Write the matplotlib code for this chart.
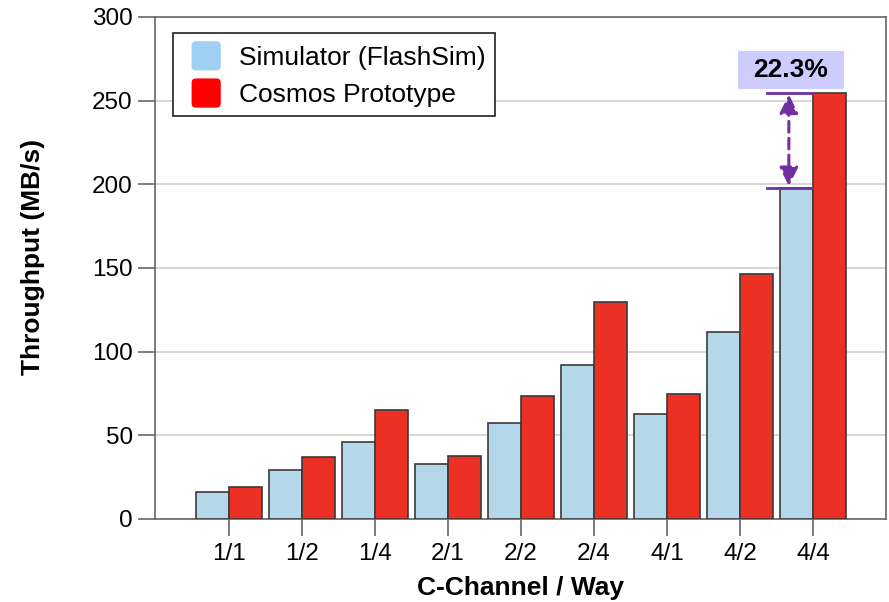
import matplotlib
matplotlib.use("Agg")
import matplotlib.pyplot as plt
import numpy as np
from matplotlib.patches import FancyBboxPatch, Rectangle
from matplotlib.legend_handler import HandlerPatch

plt.rcParams['font.family'] = ['Liberation Sans', 'DejaVu Sans']

categories = ["1/1", "1/2", "1/4", "2/1", "2/2", "2/4", "4/1", "4/2", "4/4"]
simulator = [16.3, 29.1, 46.2, 32.9, 57.4, 92.0, 62.6, 111.6, 198.0]
cosmos = [18.9, 36.9, 65.2, 37.7, 73.5, 129.6, 74.9, 146.6, 254.6]
series_names = ["Simulator (FlashSim)", "Cosmos Prototype"]
yticks = [0, 50, 100, 150, 200, 250, 300]
annot_text = "22.3%"

bar_blue = "#b4d7ea"
bar_red = "#ec3124"
leg_blue = "#a0cff4"
leg_red = "#ff0000"
spine_col = "#666666"
purple = "#7030a0"

fig = plt.figure(figsize=(8.89, 6.02), dpi=100)
ax = fig.add_axes([0.1744, 0.1379, 0.8222, 0.8339])

x = np.arange(len(categories))
w = 0.45
ax.bar(x - w / 2, simulator, width=w, color=bar_blue, edgecolor="#3a3a3a",
       linewidth=1.2, zorder=3)
ax.bar(x + w / 2, cosmos, width=w, color=bar_red, edgecolor="#3a3a3a",
       linewidth=1.2, zorder=3)

ax.set_xlim(-1.01, 9.0)
ax.set_ylim(0, 300)
ax.set_yticks(yticks)
ax.set_xticks(x)
ax.set_xticklabels(categories)
ax.yaxis.grid(True, color="#d0d0d0", linewidth=1.2, zorder=0)
ax.set_axisbelow(True)
for s in ax.spines.values():
    s.set_color(spine_col)
    s.set_linewidth(1.2)
ax.tick_params(axis="both", direction="out", length=12, width=1.2,
               color=spine_col, labelsize=17.5)
ax.tick_params(axis="y", pad=4)
ax.tick_params(axis="x", pad=5)

ax.set_ylabel("Throughput (MB/s)", fontsize=19, fontweight="bold")
ax.yaxis.set_label_coords(-0.150, 0.522)
ax.set_xlabel("C-Channel / Way", fontsize=19, fontweight="bold", labelpad=8)

# annotation
i = len(categories) - 1
top = cosmos[i]
bot = simulator[i]
xl0, xl1 = i - 0.63, i - 0.01
ax.plot([xl0, xl1], [top, top], color=purple, linewidth=2, zorder=4)
ax.plot([xl0, xl1], [bot, bot], color=purple, linewidth=2, zorder=4)
xa = i - 0.33
ax.annotate("", xy=(xa, top - 1), xytext=(xa, bot + 1),
            arrowprops=dict(arrowstyle="<|-|>", color=purple, lw=2.2,
                            linestyle=(0, (3.5, 2)), mutation_scale=28,
                            shrinkA=0, shrinkB=0), zorder=5)
ax.add_patch(Rectangle((i - 1.03, 257.0), 1.45, 22.7, facecolor="#ccccff",
                       edgecolor="none", zorder=5))
ax.text(i - 0.30, 268.4, annot_text, fontsize=19, fontweight="bold",
        ha="center", va="center", zorder=6)


class RoundHandler(HandlerPatch):
    def create_artists(self, legend, orig_handle, xdescent, ydescent, width,
                       height, fontsize, trans):
        s = height * 1.1
        p = FancyBboxPatch((-xdescent + width - s, -ydescent + (height - s) / 2),
                           s, s,
                           boxstyle="round,pad=0,rounding_size=%f" % (s * 0.15),
                           facecolor=orig_handle.get_facecolor(),
                           edgecolor="none", transform=trans)
        return [p]


h1 = Rectangle((0, 0), 1, 1, facecolor=leg_blue)
h2 = Rectangle((0, 0), 1, 1, facecolor=leg_red)
leg = ax.legend([h1, h2], series_names, loc="upper left",
                bbox_to_anchor=(0.0246, 0.968), fontsize=19, frameon=True,
                fancybox=False, edgecolor="#202020", framealpha=1,
                handler_map={Rectangle: RoundHandler()},
                handlelength=1.45, handleheight=1.17, handletextpad=0.68,
                borderpad=0.36, labelspacing=0.38, borderaxespad=0)
leg.get_frame().set_linewidth(1.2)
leg.set_zorder(7)

fig.savefig("out.png", dpi=100)
